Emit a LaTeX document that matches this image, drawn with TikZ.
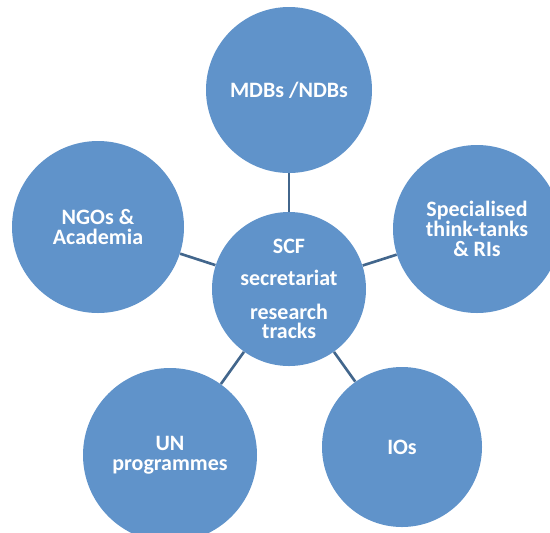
\documentclass[tikz,border=0pt]{standalone}
\usepackage{fontspec}
\setmainfont{Carlito}
\definecolor{bubble}{RGB}{96,147,202}
\definecolor{spoke}{RGB}{66,102,140}
\tikzset{
	bubble/.style={circle,fill=bubble,text=white,inner sep=0pt,align=center,
		font=\bfseries\fontsize{12.5}{11.2}\selectfont},
	spoke/.style={draw=spoke,line width=1.5pt}
}
\begin{document}
\begin{tikzpicture}
		\useasboundingbox (0,0) rectangle (11,-10.64);
		
		\node[bubble,minimum size=3.08cm] (scf) at (5.78,-5.78) {SCF\\[7pt]secretariat\\[8pt]research\\tracks};
		
		\node[bubble,minimum size=3.32cm] (mdb) at (5.78,-1.80) {MDBs /NDBs};
		\node[bubble,minimum size=3.44cm] (ngo) at (1.96,-4.54) {NGOs \&\\Academia};
		\node[bubble,minimum size=3.36cm] (thk) at (9.54,-4.58) {Specialised\\think-tanks\\\& RIs};
		\node[bubble,minimum size=3.48cm] (un) at (3.40,-9.10) {UN\\programmes};
		\node[bubble,minimum size=3.20cm] (io) at (8.04,-8.94) {IOs};
		
		\draw[spoke] (scf) -- (mdb);
		\draw[spoke] (scf) -- (ngo);
		\draw[spoke] (scf) -- (thk);
		\draw[spoke] (scf) -- (un);
		\draw[spoke] (scf) -- (io);
	\end{tikzpicture}
\end{document}
